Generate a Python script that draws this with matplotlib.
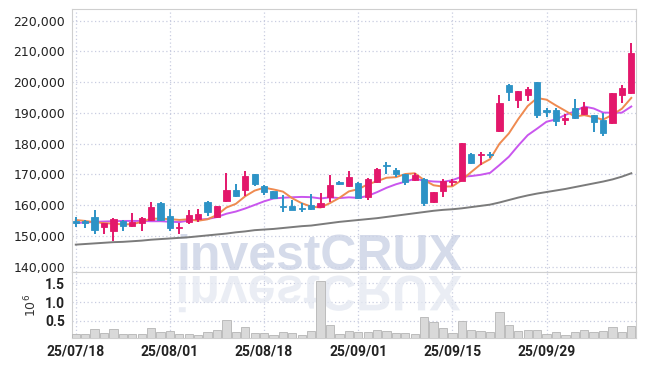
import matplotlib
matplotlib.use("Agg")
import matplotlib.pyplot as plt
import numpy as np
from matplotlib.textpath import TextPath
from matplotlib.font_manager import FontProperties
from matplotlib.patches import PathPatch
from matplotlib.transforms import Affine2D

# ---------------- data ----------------
tick_labels = ["25/07/18", "25/08/01", "25/08/18", "25/09/01", "25/09/15", "25/09/29"]
tick_index = [0, 10, 20, 30, 40, 50]

opens = [155000, 154900, 156300, 152800, 151700, 155000, 153400, 154100, 155200, 160700,
         156400, 152500, 154500, 155500, 161200, 156300, 161300, 164900, 164800, 170000,
         166400, 164500, 159900, 159600, 159000, 160200, 159300, 162800, 167700, 166400,
         167200, 162600, 167500, 172900, 171500, 170000, 168300, 168600, 161000, 164600,
         167500, 168000, 176800, 176300, 176800, 184100, 199100, 194100, 195900, 200100,
         190900, 191100, 187700, 191500, 189600, 189200, 187600, 186800, 196000, 196600]
highs = [156300, 155300, 158600, 154300, 156000, 155300, 157400, 156300, 161200, 161000,
         158800, 154100, 158300, 158800, 161300, 159900, 170400, 167000, 171000, 170200,
         166500, 164600, 163200, 161700, 160700, 163500, 163900, 169900, 168000, 171100,
         167400, 168900, 172000, 174000, 172200, 170200, 170400, 168800, 164400, 168600,
         168600, 180100, 177000, 177300, 177400, 195900, 199300, 197300, 198600, 200100,
         191600, 191600, 189800, 194600, 193500, 189300, 190000, 196600, 199100, 212900]
lows = [153000, 152500, 150700, 150700, 148500, 151700, 152800, 151700, 155000, 155000,
        151700, 150700, 153900, 154500, 156600, 155900, 161000, 162600, 163000, 166400,
        163200, 162000, 157700, 158300, 157900, 158500, 159100, 161200, 166700, 165900,
        162100, 161800, 167300, 170300, 169300, 166600, 167800, 159900, 160800, 162800,
        166100, 167800, 173300, 173000, 175200, 183900, 193800, 191500, 194000, 188300,
        188800, 185900, 186200, 188200, 189300, 183800, 182600, 186300, 193100, 196300]
closes = [154300, 154100, 152000, 154100, 155500, 153200, 154400, 155800, 159400, 155300,
          152600, 153000, 156900, 157000, 157700, 159600, 165100, 162900, 169400, 166800,
          164300, 162300, 159400, 158500, 158800, 158800, 160800, 166600, 167000, 169300,
          162400, 168600, 171800, 172600, 170200, 167600, 169800, 160700, 164200, 168000,
          168000, 180100, 173700, 176700, 176400, 193100, 196900, 197100, 197800, 189400,
          190400, 187500, 188400, 188400, 191800, 187000, 183500, 196500, 198100, 209400]

ma5 = [155200, 154900, 154500, 154200, 154000, 153780, 153840, 154600, 155660, 155620,
       155500, 155220, 155440, 154960, 155440, 156840, 159260, 160460, 162940, 164760,
       165700, 165140, 164440, 162260, 160660, 159560, 159260, 160700, 162400, 164500,
       165220, 166780, 167820, 168940, 169120, 170160, 170400, 168180, 166500, 166060,
       166140, 168200, 170800, 173300, 174980, 180000, 183360, 188040, 192260, 194860,
       194320, 192440, 190700, 188820, 189300, 188620, 187820, 189440, 191380, 194900]
ma10 = [154200, 154400, 154600, 154700, 154800, 154900, 154900, 154900, 154800, 154810,
        154640, 154530, 155020, 155310, 155530, 156170, 157240, 157950, 158950, 160100,
        161270, 162200, 162450, 162600, 162710, 162630, 162200, 162570, 162330, 162580,
        162390, 163020, 164260, 165670, 166810, 167690, 168590, 168000, 167720, 167590,
        168150, 169300, 169490, 169900, 170520, 173070, 175780, 179420, 182780, 184920,
        187160, 187900, 189370, 190540, 192080, 191470, 190130, 190070, 190100, 192100]
ma_long = [147200, 147400, 147600, 147800, 148000, 148100, 148300, 148500, 148800, 149000,
           149200, 149400, 149600, 149900, 150200, 150500, 150800, 151200, 151500, 151900,
           152100, 152300, 152600, 152900, 153200, 153400, 153800, 154200, 154600, 154900,
           155200, 155500, 155800, 156200, 156600, 157000, 157400, 157800, 158200, 158500,
           158700, 159000, 159400, 159800, 160200, 160900, 161700, 162500, 163200, 163800,
           164300, 164800, 165300, 165900, 166500, 167100, 167700, 168400, 169300, 170400]

volume = [0.13, 0.13, 0.27, 0.17, 0.27, 0.13, 0.15, 0.13, 0.30, 0.19,
          0.22, 0.13, 0.15, 0.11, 0.19, 0.24, 0.52, 0.19, 0.32, 0.17,
          0.17, 0.11, 0.19, 0.17, 0.10, 0.22, 1.58, 0.37, 0.13, 0.22,
          0.19, 0.19, 0.25, 0.22, 0.17, 0.17, 0.13, 0.60, 0.45, 0.30,
          0.17, 0.50, 0.24, 0.22, 0.19, 0.72, 0.37, 0.22, 0.24, 0.24,
          0.14, 0.19, 0.11, 0.19, 0.24, 0.19, 0.22, 0.32, 0.19, 0.35]

price_ticks = [140000, 150000, 160000, 170000, 180000, 190000, 200000, 210000, 220000]
vol_ticks = [0.5, 1.0, 1.5]
vol_tick_labels = ["0.5", "1.0", "1.5"]

# ---------------- style ----------------
UP = "#e3176b"
DOWN = "#2d93c6"
GRID = "#c9cde0"
SPINE = "#cfcfcf"

fig = plt.figure(figsize=(6.45, 3.66), dpi=100)
ax = fig.add_axes([72 / 645, 1 - 272 / 366, (636 - 72) / 645, (272 - 9.3) / 366])
axv = fig.add_axes([72 / 645, 1 - 338 / 366, (636 - 72) / 645, (338 - 272) / 366], sharex=ax)

x = np.arange(len(closes))
o = np.array(opens, float)
c = np.array(closes, float)
h = np.array(highs, float)
l = np.array(lows, float)
up = c >= o
cols = np.where(up, UP, DOWN)

# wicks
ax.vlines(x, l, h, colors=cols, linewidth=1.4, zorder=4)
# bodies
bottoms = np.minimum(o, c)
heights = np.maximum(np.abs(c - o), 350)
ax.bar(x, heights, bottom=bottoms, width=0.66, color=cols, edgecolor=cols,
       linewidth=0.6, zorder=5)

# moving averages
ax.plot(x, ma_long, color="#7b7b7b", linewidth=1.4, zorder=3)
ax.plot(x, ma10, color="#c956ee", linewidth=1.4, zorder=3)
ax.plot(x, ma5, color="#ef8a50", linewidth=1.4, zorder=3)

ax.set_xlim(-0.4, 59.5)
ax.set_ylim(138300, 223700)
ax.set_yticks(price_ticks)
ax.set_yticklabels([f"{v:,}" for v in price_ticks])
ax.grid(True, linestyle=(0, (1, 2)), color=GRID, linewidth=0.9)
ax.set_axisbelow(True)
ax.tick_params(axis="both", length=0, labelsize=9, colors="#222222", pad=5)
ax.tick_params(axis="x", labelbottom=False)
for s in ax.spines.values():
    s.set_color(SPINE)

# volume
axv.bar(x, volume, width=0.88, color="#d9d9d9", edgecolor="#b5b5b5", linewidth=0.6, zorder=3)
axv.set_ylim(0.03, 1.81)
axv.set_yticks(vol_ticks)
axv.set_yticklabels(vol_tick_labels)
axv.set_xticks(tick_index)
axv.set_xticklabels(tick_labels)
axv.grid(True, linestyle=(0, (1, 2)), color=GRID, linewidth=0.9)
axv.set_axisbelow(True)
axv.tick_params(axis="both", length=0, colors="#222222", pad=5)
for lab in axv.get_xticklabels() + axv.get_yticklabels():
    lab.set_family("Roboto")
    lab.set_fontweight("bold")
    lab.set_fontsize(10)
axv.set_ylabel(r"$10^6$", fontsize=9, color="#333333", labelpad=4)
for s in axv.spines.values():
    s.set_color(SPINE)

# watermark
wm_fp = FontProperties(family="Liberation Sans", weight="bold", size=36)
ax.text((320 - 72) / 564, 0.008, "investCRUX",
        transform=ax.transAxes, ha="center", va="baseline",
        fontproperties=wm_fp, color="#cbd2e5", alpha=0.8, zorder=1)
tp = TextPath((0, 0), "investCRUX", size=50, prop=wm_fp)
ext = tp.get_extents()
x0 = 320 - ext.width / 2 - ext.x0
refl = PathPatch(tp, transform=Affine2D().scale(1, -1).translate(x0, 366 - 276),
                 facecolor="#e4e8f1", edgecolor="none", alpha=0.75, zorder=1)
axv.add_artist(refl)
refl.set_clip_path(axv.patch)

fig.savefig("out.png", dpi=100)
